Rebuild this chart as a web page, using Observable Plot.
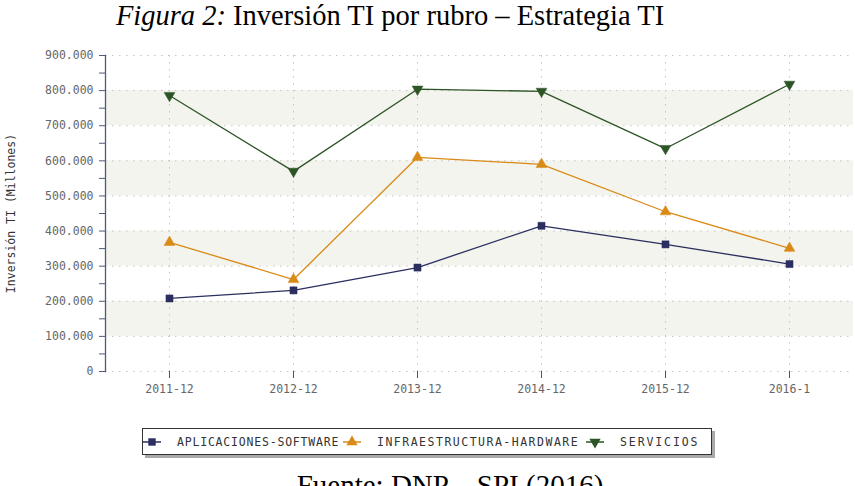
<!DOCTYPE html>
<html>
<head>
<meta charset="utf-8">
<script src="https://cdn.jsdelivr.net/npm/d3@7"></script>
<script src="https://cdn.jsdelivr.net/npm/@observablehq/plot@0.6"></script>
<style>
  html, body { margin: 0; padding: 0; background: #fff; }
  #page { position: relative; width: 855px; height: 486px; overflow: hidden; }
  #title { position: absolute; left: 0; width: 780px; top: 0px; text-align: center;
           font: 28.5px/32px "Liberation Serif", "Times New Roman", serif; color: #000; white-space: nowrap; }
  #chart { position: absolute; left: 0; top: 0; }
  #legend { position: absolute; left: 142px; top: 428px; width: 568px; height: 25px;
            border: 1px solid #333; box-shadow: 3px 3px 0 #a9a9a9; background: #fff;
            font: 11.5px "DejaVu Sans Mono", monospace; color: #333; }
  .item { position: absolute; top: 0; height: 25px; display: flex; align-items: center; }
  .item svg { margin-right: 16px; }
  #caption { position: absolute; left: 0; width: 900px; top: 471px; text-align: center;
             font: 29px/29px "Liberation Serif", "Times New Roman", serif; color: #000; white-space: nowrap; }
</style>
</head>
<body>
<div id="page">
  <div id="title"><i>Figura 2:</i> Inversión TI por rubro – Estrategia TI</div>
  <div id="chart"></div>
  <div id="legend"></div>
  <div id="caption">Fuente: DNP – SPI (2016)</div>
</div>
<script>
// Periods on the x axis
const periodos = ["2011-12", "2012-12", "2013-12", "2014-12", "2015-12", "2016-1"];

// IT investment per category (millions of pesos)
const aplicaciones = [208000, 231000, 296000, 415000, 362000, 306000];
const infraestructura = [368000, 262000, 610000, 590000, 455000, 351000];
const servicios = [786000, 570000, 804000, 798000, 635000, 818000];

const series = ["APLICACIONES-SOFTWARE", "INFRAESTRUCTURA-HARDWARE", "SERVICIOS"];
const colores = ["#2b2f5f", "#d98a17", "#2c5526"];
const simbolos = ["square", "triangle", "triangle"];
const giros = [0, 0, 180];

const yTicks = d3.range(0, 900001, 100000);
const yMinor = d3.range(0, 900001, 50000);
const bandas = [[100000, 200000], [300000, 400000], [500000, 600000], [700000, 800000]];

const valores = [aplicaciones, infraestructura, servicios];
const datos = series.flatMap((s, i) =>
  periodos.map((p, j) => ({serie: s, periodo: p, valor: valores[i][j], rot: giros[i]}))
);

const fmt = d => d === 0 ? "0" : d3.format(",")(d).replace(/,/g, ".");
const mono = "DejaVu Sans Mono, monospace";

const chart = Plot.plot({
  width: 855,
  height: 486,
  marginLeft: 105,
  marginRight: 2,
  marginTop: 55,
  marginBottom: 115,
  style: {fontFamily: mono, fontSize: "11.5px", color: "#666", background: "transparent"},
  x: {type: "point", domain: periodos, padding: 0.5},
  y: {domain: [0, 900000]},
  color: {domain: series, range: colores},
  symbol: {domain: series, range: simbolos},
  marks: [
    Plot.rect(bandas, {y1: d => d[0], y2: d => d[1], fill: "#f3f4ee"}),
    Plot.ruleY(yTicks, {stroke: "#c4c4c4", strokeDasharray: "1.5,5.5"}),
    Plot.ruleX(periodos, {stroke: "#c4c4c4", strokeDasharray: "1.5,5.5"}),
    Plot.frame({anchor: "left", stroke: "#4d5a78", strokeWidth: 1.3}),
    Plot.axisY({ticks: yMinor, tickSize: 6, tickPadding: 6, stroke: "#4d5a78",
                tickFormat: d => d % 100000 ? "" : fmt(d),
                label: "Inversión TI (Millones)", labelAnchor: "center", labelArrow: "none",
                labelOffset: 99, fill: "#666"}),
    Plot.axisX({tickSize: 7, tickPadding: 6, stroke: "#555", label: null, fill: "#666"}),
    Plot.line(datos, {x: "periodo", y: "valor", z: "serie", stroke: "serie", strokeWidth: 1.3}),
    Plot.dot(datos, {x: "periodo", y: "valor", symbol: "serie", fill: "serie", stroke: "serie",
                     strokeWidth: 0.5, r: 4, rotate: "rot"})
  ]
});
document.getElementById("chart").appendChild(chart);

// y axis title in the darker text colour
chart.querySelectorAll("[aria-label='y-axis label'] text").forEach(t => t.setAttribute("fill", "#333"));

// Legend: a line swatch with the series marker, then the series name
const posiciones = [0, 200, 443];
const espaciado = [0.8, 1.5, 1.9];
const leg = d3.select("#legend");
series.forEach((s, i) => {
  const it = leg.append("div").attr("class", "item").style("left", posiciones[i] + "px");
  const sv = it.append("svg").attr("width", 18).attr("height", 14);
  sv.append("line").attr("x1", 0).attr("x2", 18).attr("y1", 7).attr("y2", 7)
    .attr("stroke", colores[i]).attr("stroke-width", 1.5);
  const sym = d3.symbol(simbolos[i] === "square" ? d3.symbolSquare : d3.symbolTriangle, 55)();
  sv.append("path").attr("d", sym)
    .attr("transform", `translate(9,7) rotate(${giros[i]})`).attr("fill", colores[i]);
  it.append("span").style("letter-spacing", espaciado[i] + "px").text(s);
});
</script>
</body>
</html>
